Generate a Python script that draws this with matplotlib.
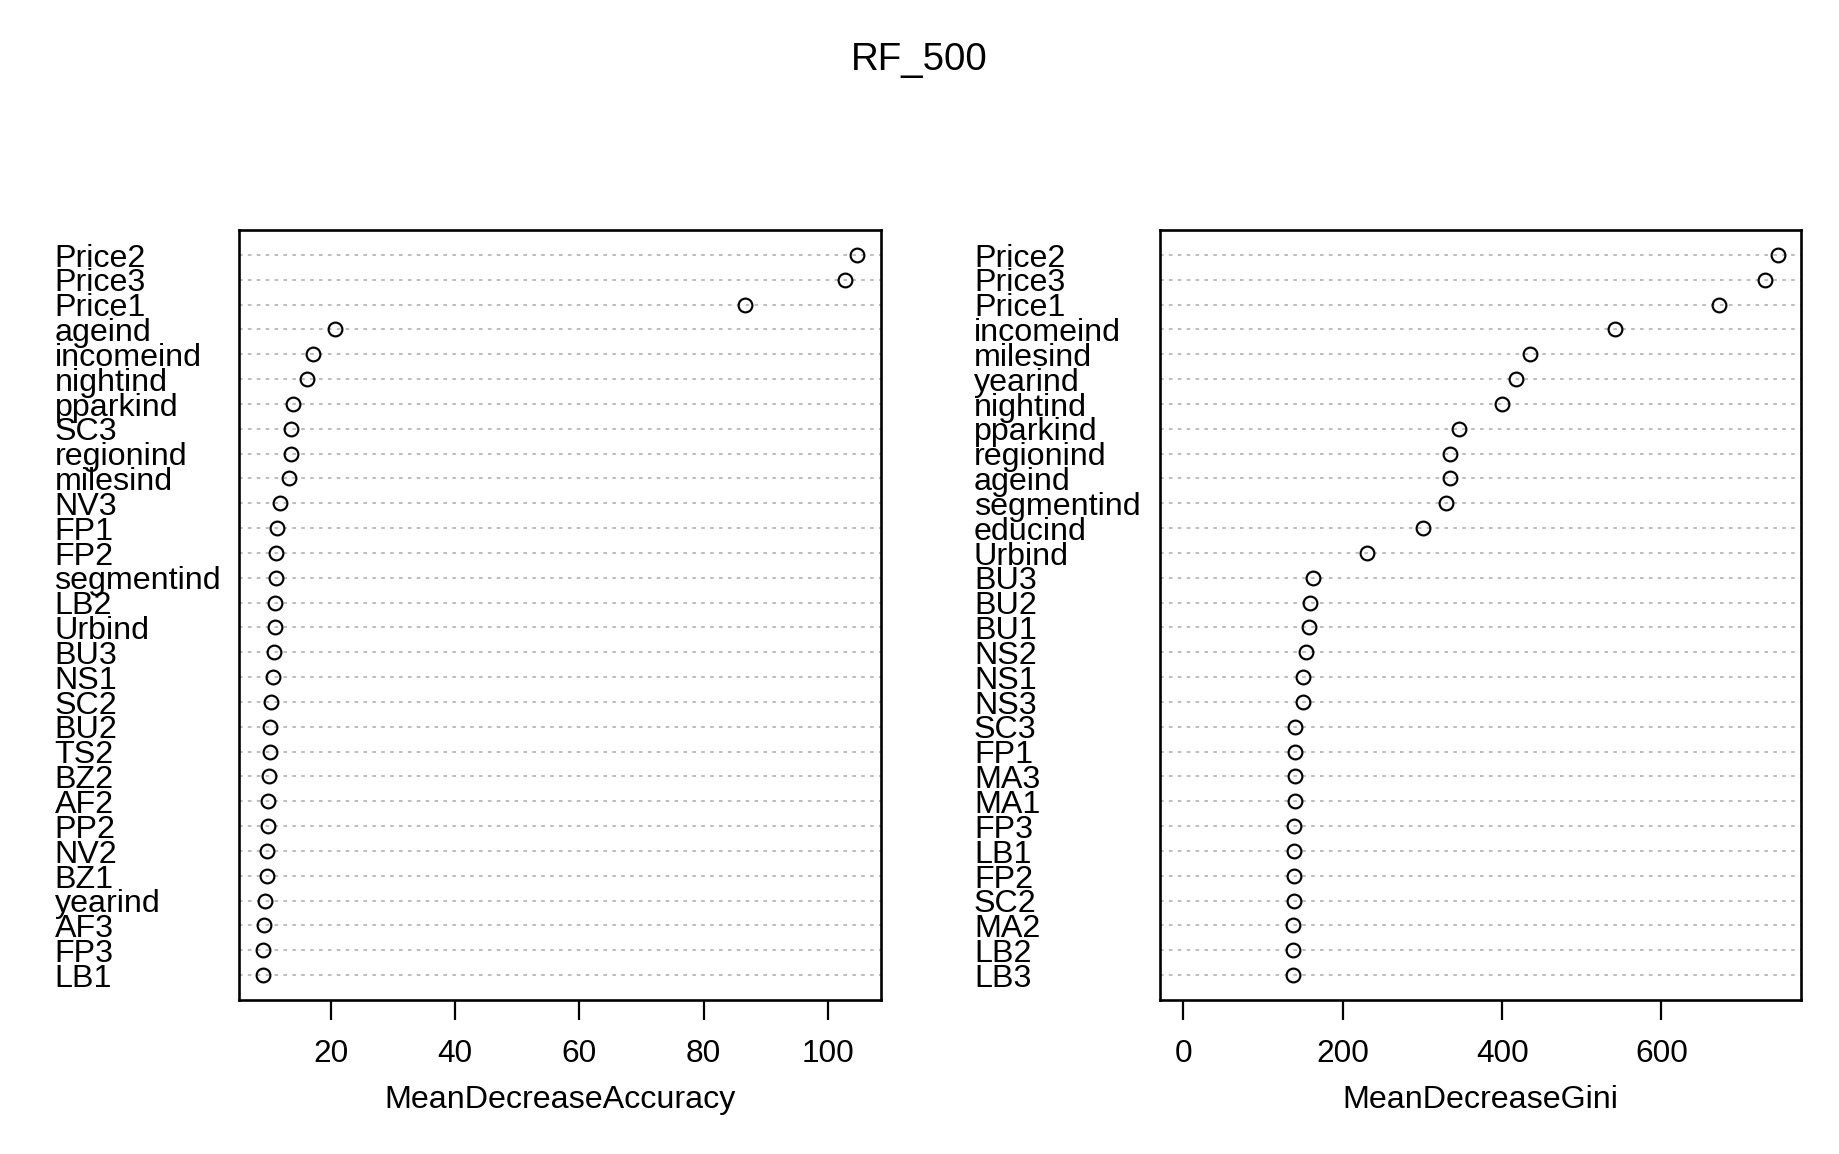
import matplotlib
matplotlib.use("Agg")
import matplotlib.pyplot as plt
import matplotlib.transforms as mtransforms

# ---- data (top to bottom as shown) ----
acc_labels = ["Price2", "Price3", "Price1", "ageind", "incomeind", "nightind", "pparkind",
              "SC3", "regionind", "milesind", "NV3", "FP1", "FP2", "segmentind", "LB2",
              "Urbind", "BU3", "NS1", "SC2", "BU2", "TS2", "BZ2", "AF2", "PP2", "NV2",
              "BZ1", "yearind", "AF3", "FP3", "LB1"]
acc_values = [104.7, 102.7, 86.6, 20.7, 17.2, 16.2, 14.0, 13.7, 13.6, 13.3, 11.9, 11.3,
              11.2, 11.15, 11.1, 11.0, 10.95, 10.7, 10.4, 10.25, 10.2, 10.15, 9.9, 9.86,
              9.84, 9.77, 9.5, 9.22, 9.2, 9.13]

gini_labels = ["Price2", "Price3", "Price1", "incomeind", "milesind", "yearind", "nightind",
               "pparkind", "regionind", "ageind", "segmentind", "educind", "Urbind", "BU3",
               "BU2", "BU1", "NS2", "NS1", "NS3", "SC3", "FP1", "MA3", "MA1", "FP3", "LB1",
               "FP2", "SC2", "MA2", "LB2", "LB3"]
gini_values = [745.9, 730.1, 672.4, 541.2, 435.2, 417.9, 399.2, 345.8, 335.0, 334.3, 329.2,
               301.1, 230.4, 162.7, 159.1, 157.3, 153.3, 150.4, 150.2, 140.3, 140.2, 139.6,
               139.4, 139.3, 138.9, 138.8, 138.2, 137.5, 137.4, 137.2]

acc_ticks = [20, 40, 60, 80, 100]
gini_ticks = [0, 200, 400, 600]
title = "RF_500"
xlabels = ["MeanDecreaseAccuracy", "MeanDecreaseGini"]

plt.rcParams['font.family'] = ['Liberation Sans', 'DejaVu Sans']
plt.rcParams['lines.scale_dashes'] = False

W, H, DPI = 1840, 1154, 100
fig = plt.figure(figsize=(W / DPI, H / DPI), dpi=DPI)
FS = 23.2
TFS = 22.8

panels = [
    (acc_labels, acc_values, acc_ticks, xlabels[0], 239.3, 880.8, 54.5, False),
    (gini_labels, gini_values, gini_ticks, xlabels[1], 1159.7, 1801.5, 974.0, True),
]
top_px, bot_px = 230.0, 1000.0

for labels, values, ticks, xlab, x0, x1, lab_x, zero_min in panels:
    ax = fig.add_axes([x0 / W, 1 - bot_px / H, (x1 - x0) / W, (bot_px - top_px) / H])
    n = len(values)
    ys = list(range(n, 0, -1))
    lo = 0.0 if zero_min else min(values)
    hi = max(values)
    r = hi - lo
    ax.set_xlim(lo - 0.04 * r, hi + 0.04 * r)
    ax.set_ylim(0, n + 1)
    for y in ys:
        ax.axhline(y, color="#BEBEBE", lw=1.45, linestyle=(0, (2.6, 3.8)), zorder=1)
    ax.plot(values, ys, linestyle="none", marker="o", markersize=9.9,
            markerfacecolor="none", markeredgecolor="black", markeredgewidth=1.55, zorder=3)
    for s in ax.spines.values():
        s.set_linewidth(1.9)
    ax.set_yticks([])
    ax.set_xticks(ticks)
    ax.set_xticklabels([str(t) for t in ticks])
    ax.tick_params(axis="x", length=14.4, width=1.6, pad=14.0, labelsize=TFS, direction="out")
    ax.set_xlabel(xlab, fontsize=FS, labelpad=11)
    trans = mtransforms.blended_transform_factory(fig.transFigure, ax.transData)
    trans = mtransforms.offset_copy(trans, fig=fig, y=-11.7, units="dots")
    for lab, y in zip(labels, ys):
        ax.text(lab_x / W, y, lab, transform=trans, ha="left", va="baseline",
                fontsize=FS, clip_on=False)

fig.text(919 / W, 1 - 70 / H, title, ha="center", va="baseline", fontsize=27.7)

fig.savefig("out.png", dpi=DPI, facecolor="white")
